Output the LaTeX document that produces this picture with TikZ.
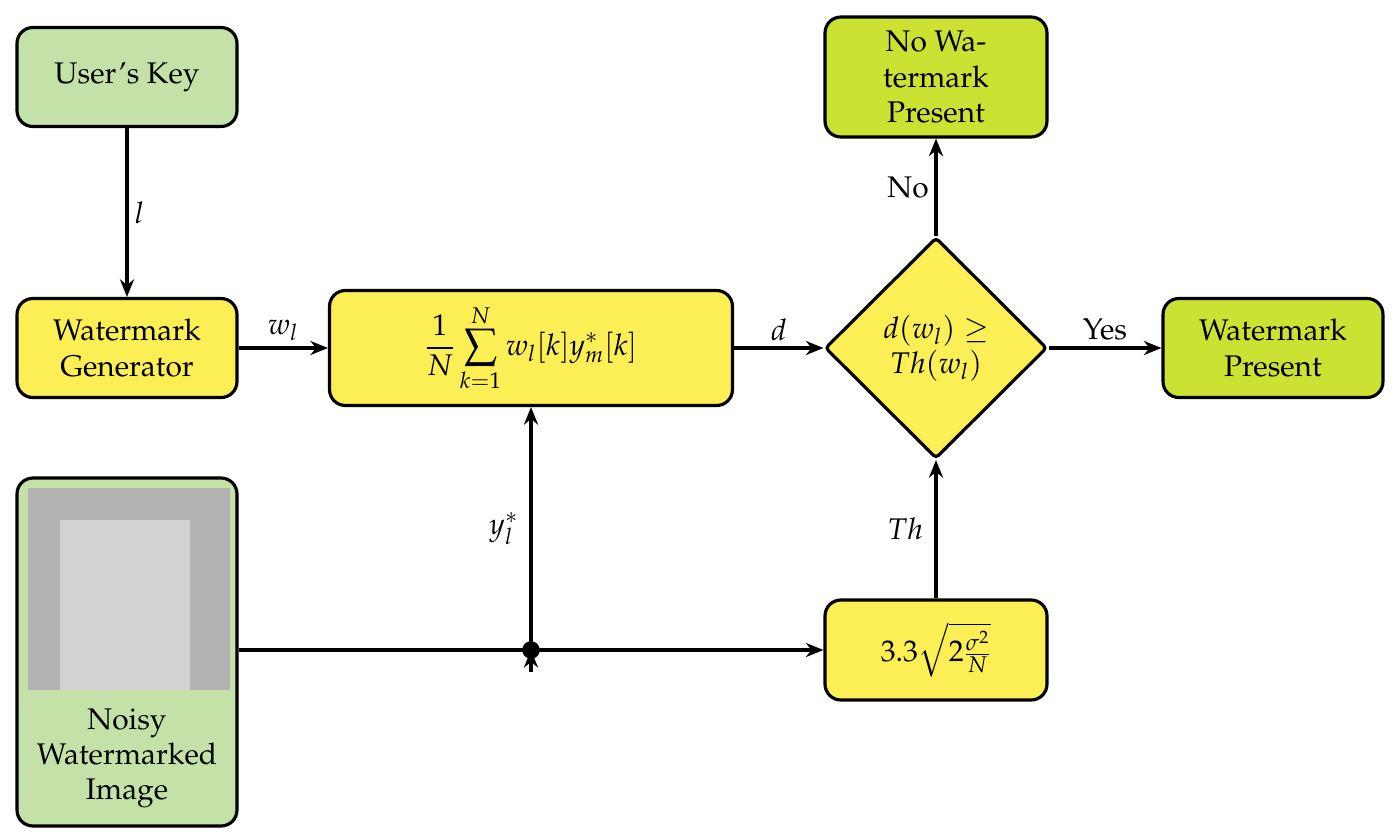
\documentclass[tikz,border=0pt]{standalone}
\usepackage[T1]{fontenc}
\usepackage{mathpazo}
\usetikzlibrary{shapes.geometric,arrows.meta}
\definecolor{lg}{HTML}{C4E2A8}
\definecolor{yl}{HTML}{FCEE55}
\definecolor{lm}{HTML}{CCE232}
\begin{document}
\begin{tikzpicture}[x=0.02cm,y=-0.02cm,
 box/.style={draw,line width=1.8pt,rounded corners=9pt,align=center,font=\fontsize{17}{20}\selectfont},
 ar/.style={line width=1.8pt,-{Stealth[length=10pt,width=8pt]}},
 lab/.style={font=\fontsize{17}{20}\selectfont}]
\useasboundingbox (0,0) rectangle (1397,836);
\node[box,fill=lg,minimum width=4.4cm,minimum height=1.98cm] (key) at (127,77) {User's Key};
\node[box,fill=yl,minimum width=4.4cm,minimum height=1.98cm] (gen) at (127,348) {Watermark\\Generator};
\node[box,fill=yl,minimum width=8.06cm,minimum height=2.3cm] (sum) at (531,348) {$\displaystyle\frac{1}{N}\sum_{k=1}^{N} w_l[k]y_m^*[k]$};
\node[box,fill=yl,diamond,rounded corners=2pt,minimum width=4.44cm,minimum height=4.42cm,inner sep=0pt] (dec) at (936,348) {$d(w_l)\geq$\\$Th(w_l)$};
\node[box,fill=lm,minimum width=4.44cm,minimum height=2.4cm] (no) at (936,77) {No Wa-\\termark\\Present};
\node[box,fill=lm,minimum width=4.4cm,minimum height=1.98cm] (yes) at (1273,348) {Watermark\\Present};
\node[box,fill=lg,minimum width=4.4cm,minimum height=6.96cm] (img) at (127,652) {};
\fill[gray!60] (28,488) rectangle (230,690);
\fill[gray!35] (60,520) rectangle (190,690);
\node[lab,align=center] (imgt) at (127,758) {Noisy\\Watermarked\\Image};
\node[box,fill=yl,minimum width=4.44cm,minimum height=2cm] (th) at (936,650) {$3.3\sqrt{2\frac{\sigma^2}{N}}$};
\coordinate (j) at (531,650);
\draw[ar] (key) -- node[lab,right]{$l$} (gen);
\draw[ar] (gen) -- node[lab,above]{$w_l$} (sum);
\draw[ar] (sum) -- node[lab,above]{$d$} (dec);
\draw[ar] (dec) -- node[lab,above]{Yes} (yes);
\draw[ar] (dec) -- node[lab,left]{No} (no);
\draw[ar] (th) -- node[lab,left,xshift=-3pt]{$Th$} (dec);
\draw[ar] (img.east|-j) -- (th);
\draw[ar] (j) -- node[lab,left,xshift=-3pt]{$y_l^*$} (sum);
\fill (j) circle (5pt);
\draw[line width=1.8pt,-{Stealth[length=10pt,width=8pt]}] (531,672) -- (j);
\end{tikzpicture}
\end{document}
